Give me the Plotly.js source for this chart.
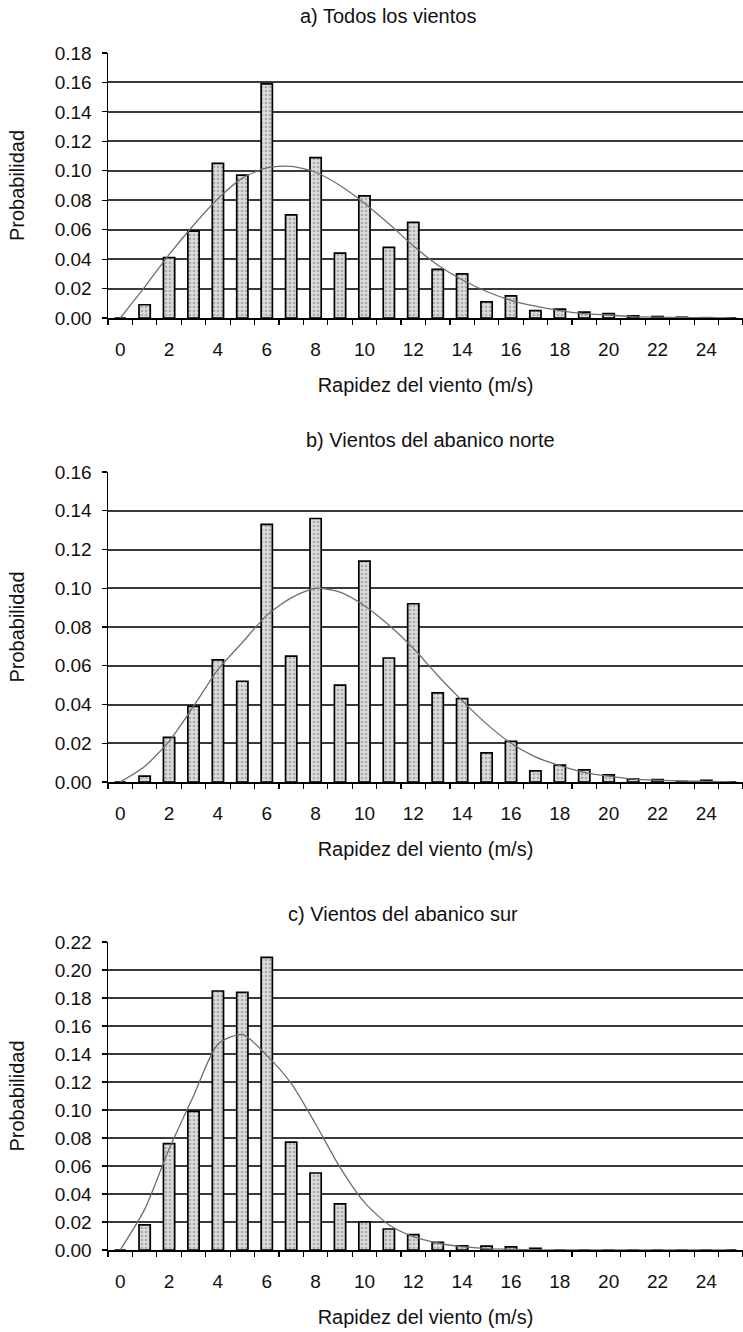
<!DOCTYPE html>
<html>
<head>
<meta charset="utf-8">
<script src="https://cdn.plot.ly/plotly-3.0.1.min.js"></script>
<style>
  html, body { margin: 0; padding: 0; background: #fff; }
  #chart { width: 743px; height: 1332px; }
</style>
</head>
<body>
<div id="chart"></div>
<script>
// Wind speed classes (m/s)
const speeds = [0,1,2,3,4,5,6,7,8,9,10,11,12,13,14,15,16,17,18,19,20,21,22,23,24,25];

// a) all winds: observed frequency and fitted distribution
const obsTodos = [0,0.009,0.041,0.059,0.105,0.097,0.159,0.070,0.109,0.044,0.083,0.048,0.065,0.033,0.030,0.011,0.015,0.005,0.006,0.004,0.003,0.0015,0.001,0.0005,0.0002,0];
const fitTodos = [0,0.021,0.043,0.063,0.081,0.095,0.102,0.103,0.099,0.090,0.078,0.064,0.049,0.036,0.026,0.018,0.012,0.008,0.005,0.003,0.002,0.001,0.0006,0.0003,0.0002,0.0001];

// b) northern sector winds
const obsNorte = [0,0.003,0.023,0.039,0.063,0.052,0.133,0.065,0.136,0.050,0.114,0.064,0.092,0.046,0.043,0.015,0.021,0.0057,0.0087,0.0063,0.0037,0.0015,0.0013,0.0003,0.0009,0];
const fitNorte = [0,0.008,0.021,0.039,0.058,0.072,0.086,0.095,0.100,0.098,0.091,0.081,0.069,0.055,0.042,0.030,0.020,0.013,0.0085,0.005,0.003,0.0015,0.0009,0.0005,0.0003,0.0001];

// c) southern sector winds
const obsSur = [0,0.018,0.076,0.099,0.185,0.184,0.209,0.077,0.055,0.033,0.020,0.015,0.011,0.0055,0.003,0.0028,0.0023,0.0012,0,0,0,0,0,0,0,0];
const fitSur = [0,0.029,0.072,0.110,0.147,0.154,0.139,0.119,0.090,0.059,0.034,0.018,0.0095,0.005,0.0024,0.001,0.0005,0.0002,0.0001,0,0,0,0,0,0,0];

const panelTitles = ['a) Todos los vientos', 'b) Vientos del abanico norte', 'c) Vientos del abanico sur'];
const xTitle = 'Rapidez del viento (m/s)';
const yTitle = 'Probabilidad';
const yMax = [0.18, 0.16, 0.22];

const W = 743, H = 1332;
const FONT = '"Liberation Sans", Arial, Helvetica, sans-serif';
const px2x = p => p / W;
const px2y = p => 1 - p / H;

// plot boxes (top, bottom) in page pixels
const boxes = [[53, 318], [472, 782], [942, 1250]];
const titlePos = [[388, 16], [430, 440], [403, 914]];

const series = [[obsTodos, fitTodos], [obsNorte, fitNorte], [obsSur, fitSur]];

const traces = [];
const layout = {
  width: W, height: H,
  margin: {l: 0, r: 0, t: 0, b: 0},
  paper_bgcolor: '#fff', plot_bgcolor: '#fff',
  showlegend: false,
  font: {family: FONT, size: 19, color: '#111'},
  annotations: []
};

series.forEach((s, i) => {
  const n = i === 0 ? '' : String(i + 1);
  traces.push({
    type: 'bar', x: speeds, y: s[0], xaxis: 'x' + n, yaxis: 'y' + n,
    width: 0.46,
    marker: {
      color: '#dcdcdc',
      line: {color: '#000', width: 1.7},
      pattern: {shape: '.', fgcolor: '#7a7a7a', size: 4, solidity: 0.35, fillmode: 'overlay'}
    },
    hoverinfo: 'x+y'
  });
  traces.push({
    type: 'scatter', mode: 'lines', x: speeds, y: s[1], xaxis: 'x' + n, yaxis: 'y' + n,
    line: {color: '#6e6e6e', width: 1.3, shape: 'spline', smoothing: 0.7},
    hoverinfo: 'x+y'
  });

  const [top, bot] = boxes[i];
  layout['xaxis' + n] = {
    domain: [px2x(108), 1],
    anchor: 'y' + n,
    range: [-0.5, 25.5],
    tickmode: 'linear', tick0: 0, dtick: 2,
    ticks: '',
    ticklabelstandoff: 14,
    tickfont: {family: FONT, size: 19, color: '#111'},
    minor: {tickmode: 'linear', tick0: -0.5, dtick: 1, ticks: 'outside', ticklen: 5, tickcolor: '#000', tickwidth: 1.2, showgrid: false},
    showgrid: false, zeroline: false,
    showline: true, linecolor: '#000', linewidth: 1.5,
    title: {text: xTitle, font: {family: FONT, size: 20, color: '#111'}, standoff: 18},
    fixedrange: true
  };
  layout['yaxis' + n] = {
    domain: [px2y(bot), px2y(top)],
    anchor: 'x' + n,
    range: [0, yMax[i]],
    tickmode: 'linear', tick0: 0, dtick: 0.02,
    tickformat: '.2f',
    ticks: 'outside', ticklen: 5, tickcolor: '#000', tickwidth: 1.2,
    ticklabelstandoff: 6,
    tickfont: {family: FONT, size: 19, color: '#111'},
    showgrid: true, gridcolor: '#3a3a3a', gridwidth: 2,
    zeroline: false,
    showline: true, linecolor: '#000', linewidth: 1.5,
    title: {text: yTitle, font: {family: FONT, size: 20, color: '#111'}, standoff: 24},
    fixedrange: true
  };
  layout.annotations.push({
    text: panelTitles[i], xref: 'paper', yref: 'paper',
    x: px2x(titlePos[i][0]), y: px2y(titlePos[i][1]),
    xanchor: 'center', yanchor: 'middle', showarrow: false,
    font: {family: FONT, size: 20, color: '#111'}
  });
});

Plotly.newPlot('chart', traces, layout, {displayModeBar: false, staticPlot: true});
</script>
</body>
</html>
